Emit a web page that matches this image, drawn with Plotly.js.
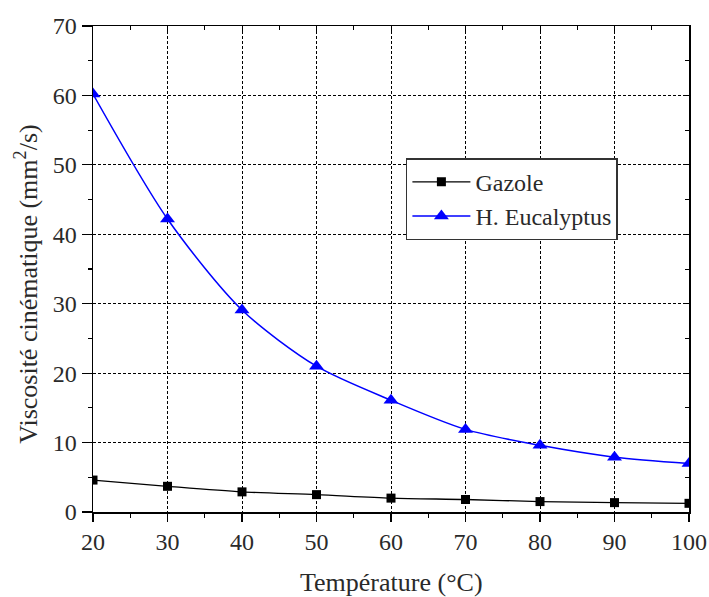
<!DOCTYPE html>
<html>
<head>
<meta charset="utf-8">
<script src="https://cdn.plot.ly/plotly-3.0.1.min.js"></script>
<style>html,body{margin:0;padding:0;background:#fff;}</style>
</head>
<body>
<div id="chart" style="width:709px;height:597px;"></div>
<script>
const temperature = [20, 30, 40, 50, 60, 70, 80, 90, 100];
const gazole = [4.6, 3.7, 2.9, 2.5, 2.0, 1.8, 1.5, 1.35, 1.25];
const eucalyptus = [60.2, 42.2, 29.1, 21.0, 16.1, 11.9, 9.6, 7.9, 7.0];
const xTicks = [20, 30, 40, 50, 60, 70, 80, 90, 100];
const yTicks = [0, 10, 20, 30, 40, 50, 60, 70];
const xTitle = 'Température (°C)';
const yTitle = 'Viscosité cinématique (mm<sup>2</sup>/s)';

const font = '"Liberation Serif", "Times New Roman", Times, serif';
const txt = '#2a2a2a';

const traces = [
  {
    x: temperature, y: gazole, name: 'Gazole', type: 'scatter', mode: 'lines+markers',
    line: {color: '#000000', width: 1.3, shape: 'spline', smoothing: 0.8},
    marker: {symbol: 'square', size: 9, color: '#000000'}
  },
  {
    x: temperature, y: eucalyptus, name: 'H. Eucalyptus', type: 'scatter', mode: 'lines+markers',
    line: {color: '#0000ff', width: 1.5, shape: 'spline', smoothing: 0.8},
    marker: {symbol: 'triangle-up', size: 13, color: '#0000ff'}
  }
];

const layout = {
  width: 709, height: 597,
  margin: {l: 93, r: 20, t: 26, b: 85},
  paper_bgcolor: '#ffffff', plot_bgcolor: '#ffffff',
  font: {family: font, size: 24, color: txt},
  showlegend: true,
  legend: {
    x: 0.525, y: 0.728, xanchor: 'left', yanchor: 'top',
    bgcolor: '#ffffff', bordercolor: '#333', borderwidth: 1.5,
    font: {family: font, size: 24, color: txt},
    tracegroupgap: 0, itemwidth: 58
  },
  xaxis: {
    range: [20, 100], tickvals: xTicks, ticktext: xTicks.map(String),
    showline: true, linecolor: '#000', linewidth: 1.5, mirror: true,
    ticks: 'outside', ticklen: 8, tickwidth: 1.2, tickcolor: '#000',
    minor: {dtick: 5, ticks: 'outside', ticklen: 4, tickcolor: '#000', showgrid: false},
    showgrid: true, gridcolor: '#000', gridwidth: 1, griddash: '3px,2px',
    zeroline: false,
    tickfont: {family: font, size: 24, color: txt}
  },
  yaxis: {
    range: [0, 70], tickvals: yTicks, ticktext: yTicks.map(String),
    showline: true, linecolor: '#000', linewidth: 1.5, mirror: true,
    ticks: 'outside', ticklen: 10, tickwidth: 1.2, tickcolor: '#000',
    minor: {dtick: 5, ticks: 'outside', ticklen: 4, tickcolor: '#000', showgrid: false},
    showgrid: true, gridcolor: '#000', gridwidth: 1, griddash: '3px,2px',
    zeroline: false,
    tickfont: {family: font, size: 24, color: txt}
  },
  xaxis2: {
    overlaying: 'x', side: 'top', range: [20, 100], showticklabels: false,
    tickvals: xTicks, ticks: 'inside', ticklen: 6, tickcolor: '#000',
    minor: {dtick: 5, ticks: 'inside', ticklen: 4, tickcolor: '#000'},
    showgrid: false, zeroline: false, showline: false
  },
  yaxis2: {
    overlaying: 'y', side: 'right', range: [0, 70], showticklabels: false,
    tickvals: yTicks, ticks: 'inside', ticklen: 6, tickcolor: '#000',
    minor: {dtick: 5, ticks: 'inside', ticklen: 4, tickcolor: '#000'},
    showgrid: false, zeroline: false, showline: false
  },
  annotations: [
    {text: xTitle, xref: 'paper', yref: 'paper', x: 0.5, y: -0.146,
     xanchor: 'center', yanchor: 'middle', showarrow: false,
     font: {family: font, size: 26, color: txt}},
    {text: yTitle, xref: 'paper', yref: 'paper', x: -0.112, y: 0.468,
     xanchor: 'center', yanchor: 'middle', textangle: -90, showarrow: false,
     font: {family: font, size: 26, color: txt}}
  ]
};

traces.push({x: [20], y: [0], xaxis: 'x2', yaxis: 'y2', mode: 'markers',
  marker: {opacity: 0}, showlegend: false, hoverinfo: 'skip', type: 'scatter'});

Plotly.newPlot('chart', traces, layout, {displayModeBar: false, staticPlot: true});
</script>
</body>
</html>
